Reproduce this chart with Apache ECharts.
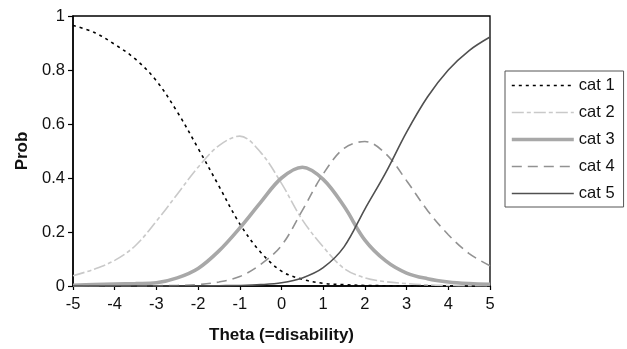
<!DOCTYPE html>
<html>
<head>
<meta charset="utf-8">
<script src="https://cdn.jsdelivr.net/npm/echarts@6/dist/echarts.min.js"></script>
<style>
html,body{margin:0;padding:0;background:#fff;}
#chart{width:627px;height:349px;}
</style>
</head>
<body>
<div id="chart"></div>
<script>
var theta = [-5,-4.5,-4,-3.5,-3,-2.5,-2,-1.5,-1,-0.5,0,0.5,1,1.5,2,2.5,3,3.5,4,4.5,5];
var cat1 = [0.965,0.94,0.895,0.84,0.76,0.645,0.51,0.37,0.23,0.125,0.055,0.025,0.01,0.005,0.002,0.001,0,0,0,0,0];
var cat2 = [0.038,0.062,0.095,0.15,0.24,0.34,0.44,0.52,0.555,0.495,0.38,0.245,0.145,0.065,0.03,0.016,0.009,0.004,0.002,0.001,0.001];
var cat3 = [0.003,0.005,0.007,0.009,0.012,0.03,0.065,0.13,0.215,0.31,0.40,0.44,0.395,0.295,0.17,0.093,0.048,0.027,0.015,0.009,0.006];
var cat4 = [0,0,0,0,0.001,0.002,0.005,0.015,0.035,0.08,0.15,0.28,0.415,0.51,0.535,0.49,0.39,0.28,0.19,0.12,0.075];
var cat5 = [0,0,0,0,0,0,0,0.001,0.002,0.005,0.012,0.03,0.068,0.145,0.285,0.42,0.57,0.70,0.80,0.872,0.922];
var seriesNames = ['cat 1','cat 2','cat 3','cat 4','cat 5'];

function pairs(v){ return theta.map(function(t,i){ return [t, v[i]]; }); }

var styles = [
  {color:'#000000', width:1.6, type:[3,4]},
  {color:'#c9c9c9', width:1.6, type:[12,3,4,3]},
  {color:'#a8a8a8', width:3.6, type:'solid'},
  {color:'#929292', width:1.6, type:[10,6]},
  {color:'#505050', width:1.6, type:'solid'}
];
var allData = [cat1,cat2,cat3,cat4,cat5];

var chart = echarts.init(document.getElementById('chart'), null, {renderer:'canvas'});
var font = '"Liberation Sans", Arial, Helvetica, sans-serif';
chart.setOption({
  animation:false,
  backgroundColor:'#ffffff',
  textStyle:{fontFamily:font},
  grid:{left:73, right:137, top:16, bottom:62, show:true, borderColor:'#000', borderWidth:1.3, backgroundColor:'transparent'},
  xAxis:{
    type:'value', min:-5, max:5, interval:1,
    name:'Theta (=disability)', nameLocation:'middle', nameGap:41,
    nameTextStyle:{fontFamily:font, fontWeight:'bold', fontSize:17, color:'#111'},
    axisLine:{show:true, onZero:false, lineStyle:{color:'#000', width:1.5}},
    axisTick:{show:true, inside:false, length:4, lineStyle:{color:'#000', width:1.2}},
    axisLabel:{fontFamily:font, fontSize:16.5, color:'#111', margin:10},
    splitLine:{show:false}
  },
  yAxis:{
    type:'value', min:0, max:1, interval:0.2,
    name:'Prob', nameLocation:'middle', nameGap:40, nameRotate:90,
    nameTextStyle:{fontFamily:font, fontWeight:'bold', fontSize:17, color:'#111'},
    axisLine:{show:true, onZero:false, lineStyle:{color:'#000', width:1.5}},
    axisTick:{show:true, inside:false, length:5, lineStyle:{color:'#000', width:1.2}},
    axisLabel:{fontFamily:font, fontSize:16.5, color:'#111', margin:8},
    splitLine:{show:false}
  },
  legend:{
    orient:'vertical', left:505, top:71,
    data:seriesNames.map(function(n,i){
      return {name:n, lineStyle:{color:styles[i].color, width:styles[i].width, type:styles[i].type}};
    }),
    itemWidth:62, itemHeight:14, itemGap:10,
    padding:[6,9,5,5],
    borderColor:'#555', borderWidth:1,
    backgroundColor:'#fff',
    itemStyle:{opacity:0},
    textStyle:{fontFamily:font, fontSize:16.5, color:'#111'}
  },
  series: allData.map(function(v,i){
    return {
      name:seriesNames[i], type:'line', data:pairs(v),
      smooth:0.35, symbol:'none', showSymbol:false,
      clip:true,
      lineStyle:{color:styles[i].color, width:styles[i].width, type:styles[i].type},
      itemStyle:{color:styles[i].color},
      z: 2 + i
    };
  })
});
</script>
</body>
</html>
